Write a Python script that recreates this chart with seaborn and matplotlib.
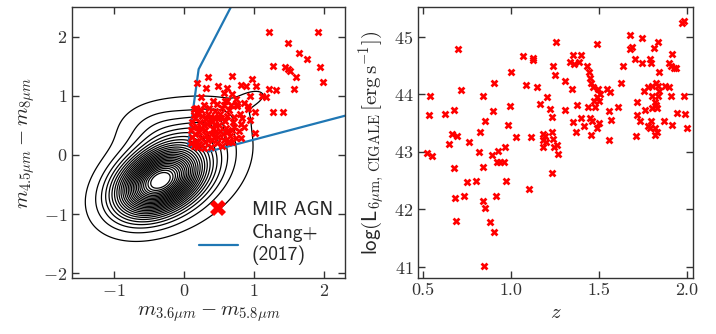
import numpy as np
import pandas as pd
import matplotlib
matplotlib.use("Agg")
import matplotlib.pyplot as plt
from matplotlib.lines import Line2D
import seaborn as sns

# ---------------- data: left panel (colour-colour) ----------------
agn_x = [1.21, 1.91, 1.49, 1.65, 1.76, 1.28, 1.44, 1.49, 1.52, 1.95, 1.60, 1.99, 1.57, 1.31,
         1.21, 1.27, 1.42, 1.01, 1.17, 0.34, 0.68, 0.18, 0.31, 0.82, 0.89, 0.97, 1.03, 0.61,
         0.49, 0.57, 0.69, 0.94, 0.25, 0.41, 0.62, 0.75, 0.57, 0.67, 0.76, 0.91, 1.01, 1.12,
         0.81, 0.71, 0.86, 0.95, 0.83,
         0.10, 0.12, 0.10, 0.12, 0.14, 0.15, 0.17, 0.16, 0.18, 0.16, 0.17, 0.15,
         0.22, 0.24, 0.22, 0.25, 0.23, 0.26, 0.24, 0.28,
         0.30, 0.32, 0.30, 0.33, 0.31, 0.34, 0.36,
         0.38, 0.40, 0.38, 0.42, 0.40, 0.43, 0.45,
         0.47, 0.49, 0.46, 0.50, 0.48, 0.52, 0.55,
         0.55, 0.57, 0.56, 0.60, 0.58, 0.62, 0.64,
         0.64, 0.66, 0.68, 0.70, 0.72, 0.74, 0.78, 0.80, 0.82,
         0.20, 0.28, 0.35, 0.44, 0.52, 0.13, 0.20, 0.29, 0.37, 0.45, 0.53, 0.61, 0.69,
         0.76, 0.86, 0.92, 0.58, 0.47]
agn_y = [2.08, 2.08, 1.90, 1.72, 1.62, 1.51, 1.48, 1.45, 1.42, 1.49, 1.31, 1.24, 1.12, 1.10,
         1.11, 0.72, 0.73, 0.37, 0.98, 1.31, 1.34, 1.21, 1.14, 1.19, 1.17, 1.29, 1.17, 1.13,
         1.16, 1.05, 1.03, 1.00, 0.98, 0.92, 0.92, 0.94, 0.85, 0.85, 0.82, 0.82, 0.73, 0.99,
         0.28, 0.48, 0.48, 0.59, 0.62,
         0.20, 0.30, 0.42, 0.55, 0.68, 0.78, 0.80, 0.62, 0.48, 0.36, 0.24, 0.15,
         0.18, 0.28, 0.38, 0.46, 0.56, 0.66, 0.76, 0.85,
         0.22, 0.33, 0.42, 0.52, 0.60, 0.70, 0.80,
         0.14, 0.25, 0.36, 0.44, 0.56, 0.64, 0.74,
         0.20, 0.30, 0.40, 0.50, 0.62, 0.70, 0.80,
         0.16, 0.26, 0.36, 0.46, 0.58, 0.66, 0.76,
         0.22, 0.32, 0.42, 0.55, 0.64, 0.28, 0.40, 0.70, 0.52,
         0.13, 0.12, 0.26, 0.32, 0.40, 0.48, 0.70, 0.50, 0.60, 0.52, 0.62, 0.38, 0.22,
         0.86, 0.88, 0.78, 0.92, 0.86]

# Chang+ (2017) selection wedge vertices
wedge_x = [0.89, 0.21, 0.06, 0.36, 3.00]
wedge_y = [3.00, 1.45, 0.16, 0.06, 0.88]

# background galaxy density: components (centre, widths, correlation, peak amplitude)
comp_cx = [-0.36, 0.00, -0.40, 0.35, 0.95]
comp_cy = [-0.45, -0.10, 0.45, 0.50, 0.95]
comp_sx = [0.38, 0.50, 0.35, 0.30, 0.13]
comp_sy = [0.36, 0.55, 0.28, 0.22, 0.09]
comp_rho = [0.36, 0.25, 0.00, 0.50, 0.50]
comp_amp = [1.00, 0.16, 0.050, 0.050, 0.050]
level_lo = 0.022
level_hi = 0.94
n_levels = 26

# ---------------- data: right panel ----------------
z_vals = [0.524, 0.555, 0.533, 0.543, 0.628, 0.651, 0.665, 0.693, 0.677, 0.677, 0.683, 0.691,
          0.702, 0.718, 0.736, 0.750, 0.765, 0.805, 0.824, 0.818, 0.842, 0.842, 0.842, 0.856,
          0.856, 0.850, 0.879, 0.899, 0.907, 0.907, 0.895, 0.915, 0.921, 0.929, 0.940, 0.962,
          0.968, 0.974, 0.984, 0.993, 1.003, 1.027, 1.070, 1.086, 1.113, 1.105, 1.125, 1.128,
          1.149, 1.168, 1.180, 1.180, 1.185, 1.192, 1.200, 1.208, 1.223, 1.235, 1.231, 1.240,
          1.247, 1.235, 1.241, 1.251, 1.255, 1.263, 1.267, 1.306, 1.306, 1.335, 1.351, 1.357,
          1.349, 1.355, 1.371, 1.375, 1.385, 1.400, 1.400, 1.414, 1.433, 1.446, 1.452, 1.457,
          1.464, 1.437, 1.452, 1.462, 1.458, 1.470, 1.480, 1.490, 1.495, 1.500, 1.490, 1.503,
          1.489, 1.507, 1.548, 1.562, 1.556, 1.567, 1.556, 1.611, 1.623, 1.636, 1.674, 1.674,
          1.686, 1.703, 1.709, 1.715, 1.715, 1.742, 1.744, 1.735, 1.754, 1.764, 1.778, 1.790,
          1.797, 1.790, 1.797, 1.780, 1.800, 1.827, 1.837, 1.813, 1.837, 1.800, 1.817, 1.827,
          1.837, 1.843, 1.800, 1.830, 1.820, 1.830, 1.820, 1.843, 1.876, 1.896, 1.870, 1.898,
          1.915, 1.908, 1.925, 1.935, 1.912, 1.915, 1.943, 1.985, 1.990, 1.999, 1.974, 1.984]
L_vals = [42.98, 42.93, 43.64, 43.96, 43.65, 43.13, 43.31, 43.27, 43.73, 42.72, 42.20, 41.80,
          44.78, 44.08, 42.24, 42.47, 43.17, 42.50, 43.34, 42.99, 43.96, 42.73, 42.14, 43.54,
          42.02, 41.02, 41.79, 43.71, 41.61, 44.20, 42.95, 42.24, 42.82, 43.01, 42.82, 42.82,
          43.08, 42.50, 43.46, 43.79, 44.38, 43.25, 44.66, 44.16, 43.25, 42.36, 44.63, 44.60,
          44.12, 43.83, 43.30, 43.20, 43.08, 43.27, 43.17, 43.95, 43.74, 43.60, 43.35, 43.22,
          43.08, 42.63, 44.48, 44.34, 44.90, 43.12, 42.97, 44.23, 43.73, 44.55, 44.68, 44.53,
          44.09, 43.51, 43.35, 43.82, 44.55, 44.68, 43.58, 43.44, 44.48, 44.39, 44.28, 44.19,
          44.12, 43.77, 43.58, 43.53, 43.29, 43.88, 43.77, 43.95, 44.09, 43.88, 44.87, 43.50,
          43.41, 44.00, 44.09, 44.03, 43.71, 43.55, 43.21, 43.78, 44.20, 44.49, 45.03, 44.78,
          44.81, 44.61, 43.28, 43.86, 43.64, 44.97, 44.54, 43.54, 44.06, 43.73, 43.44, 43.41,
          43.53, 44.61, 44.54, 44.13, 44.14, 44.19, 44.14, 44.80, 44.91, 43.96, 43.87, 43.81,
          43.96, 44.05, 43.76, 43.76, 43.41, 43.35, 43.29, 44.39, 44.14, 44.12, 43.53, 44.54,
          44.69, 44.49, 44.45, 44.45, 43.96, 43.46, 43.67, 43.96, 43.65, 43.42, 45.23, 45.27]

# ---------------- style ----------------
sns.set_style("ticks")
plt.rcParams["font.family"] = ["cmr10", "DejaVu Serif"]
plt.rcParams["mathtext.fontset"] = "cm"
plt.rcParams["axes.formatter.use_mathtext"] = True
plt.rcParams["axes.unicode_minus"] = True
plt.rcParams["axes.edgecolor"] = "#333333"
plt.rcParams["axes.linewidth"] = 1.0

fig = plt.figure(figsize=(7.16, 3.34), dpi=100)
ax1 = fig.add_axes([0.1006, 0.1677, 0.381, 0.811])
ax2 = fig.add_axes([0.5843, 0.1677, 0.384, 0.811])

# ---- left: density contours ----
gx = np.linspace(-1.6, 2.3, 400)
gy = np.linspace(-2.1, 2.5, 400)
GX, GY = np.meshgrid(gx, gy)
dens = np.zeros_like(GX)
for cx, cy, sx, sy, r, a in zip(comp_cx, comp_cy, comp_sx, comp_sy, comp_rho, comp_amp):
    u = (GX - cx) / sx
    v = (GY - cy) / sy
    q = (u * u + v * v - 2 * r * u * v) / (1 - r * r)
    dens += a * np.exp(-0.5 * q)
dmax = dens.max()
levels = dmax * np.linspace(level_lo, level_hi, n_levels)
ax1.contour(GX, GY, dens, levels=levels, colors="black", linewidths=0.9)

sns.lineplot(x=wedge_x, y=wedge_y, sort=False, ax=ax1, color="#1f77b4", lw=1.6,
             estimator=None)
sns.scatterplot(x=agn_x, y=agn_y, ax=ax1, marker="X", color="red", s=32,
                linewidth=0, zorder=3)

ax1.set_xlim(-1.6, 2.3)
ax1.set_ylim(-2.08, 2.5)
ax1.set_xticks([-1, 0, 1, 2])
ax1.set_yticks([-2, -1, 0, 1, 2])
ax1.set_xlabel(r"$m_{3.6\mu m} - m_{5.8\mu m}$", fontsize=15)
ax1.set_ylabel(r"$m_{4.5\mu m} - m_{8\mu m}$", fontsize=15)

handles = [Line2D([], [], marker="X", color="red", ls="none", markersize=11, markeredgewidth=0),
           Line2D([], [], color="#1f77b4", lw=1.6)]
ax1.legend(handles, ["MIR AGN", "Chang+\n(2017)"], loc="lower right",
           bbox_to_anchor=(1.02, -0.015), frameon=False,
           prop={"family": "cmss10", "size": 14}, handlelength=2.0,
           labelspacing=0.25, handletextpad=0.7)

# ---- right: luminosity vs redshift ----
df = pd.DataFrame({"z": z_vals, "L": L_vals})
sns.scatterplot(data=df, x="z", y="L", ax=ax2, marker="X", color="red", s=32,
                linewidth=0)
ax2.set_xlim(0.475, 2.036)
ax2.set_ylim(40.81, 45.51)
ax2.set_xticks([0.5, 1.0, 1.5, 2.0])
ax2.set_xticklabels(["0.5", "1.0", "1.5", "2.0"])
ax2.set_yticks([41, 42, 43, 44, 45])
ax2.set_xlabel(r"$z$", fontsize=15)
ax2.set_ylabel(r"$\mathsf{log(L}_{6\mu\mathrm{m},\,\mathrm{CIGALE}}\,[\mathrm{erg\,s^{-1}}]\mathsf{)}$",
               fontsize=15)

for ax in (ax1, ax2):
    ax.tick_params(direction="in", top=True, right=True, length=5, width=1,
                   labelsize=13, colors="#333333", labelcolor="#333333")
    for sp in ax.spines.values():
        sp.set_visible(True)

fig.savefig("out.png", dpi=100)
